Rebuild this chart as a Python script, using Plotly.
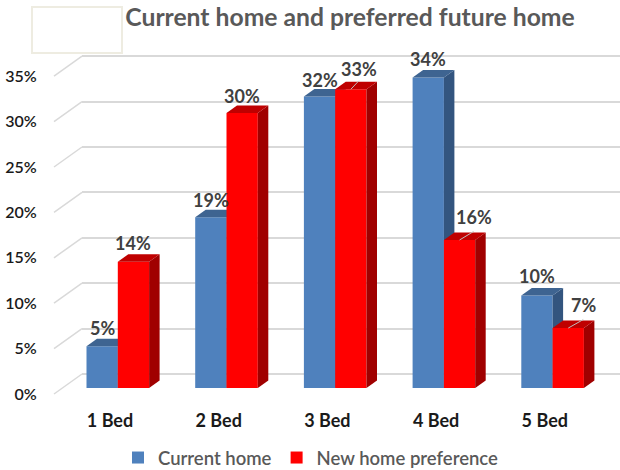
import plotly.graph_objects as go

categories = ["1 Bed", "2 Bed", "3 Bed", "4 Bed", "5 Bed"]
current_home = [4.6, 18.8, 32.1, 34.2, 10.2]
new_home = [13.9, 30.3, 32.9, 16.3, 6.6]
y_ticks = [0, 5, 10, 15, 20, 25, 30, 35]

# per-label placement of the data labels, in pixels from the bar's front top
blue_dx = [0, 0, 0, 0, 0]
blue_dy = [18, 17, 17, 18, 19]
red_dx = [0, 0, 8, 14, 15]
red_dy = [19, 17, 20, 23, 23]
leader_on = [False, False, True, True, True]

W, H = 620, 490       # slightly taller than the 470 window so the legend box is not clipped
CAT_STEP = 108.7      # px per category
PX_PER_PCT = 9.08     # px per percentage point
BAR_X0 = 117.8        # px of first category centre (bars)
BAR_Y0 = 388          # px of 0% on the bars' front plane
BACK_X0, BACK_Y0 = 82, 374
FRONT_X0, FRONT_Y0 = 54, 394
LABEL_X0 = 110
BAR_W = 31.3 / CAT_STEP
DX = 10.5 / CAT_STEP
DY = 7.5 / PX_PER_PCT
BLUE, BLUE_TOP, BLUE_SIDE = "#4F81BD", "#3E6491", "#33557F"
RED, RED_TOP, RED_SIDE = "#FF0000", "#BF0000", "#A00000"
GRID = "#D9D9D9"
FONT = "Lato"


def x_range(x0):
    return [(0 - x0) / CAT_STEP, (W - x0) / CAT_STEP]


def y_range(y0):
    return [(y0 - H) / PX_PER_PCT, y0 / PX_PER_PCT]


def poly(xs, ys, color, axes):
    return go.Scatter(x=xs, y=ys, mode="lines", fill="toself", fillcolor=color,
                      line=dict(width=0, color=color), hoverinfo="skip",
                      showlegend=False, xaxis=axes[0], yaxis=axes[1])


def bar_group(values, left_offset, name, front, top, side, axes):
    idx = list(range(len(values)))
    out = [go.Bar(x=idx, y=values, width=BAR_W, offset=left_offset, name=name,
                  marker=dict(color=front, line=dict(width=0)),
                  xaxis=axes[0], yaxis=axes[1])]
    for i, v in zip(idx, values):
        L = i + left_offset
        R = L + BAR_W
        out.append(poly([R, R + DX, R + DX, R, R], [0, DY, v + DY, v, 0], side, axes))
        out.append(poly([L, R, R + DX, L + DX, L], [v, v, v + DY, v + DY, v], top, axes))
    return out


fig = go.Figure()

# back wall gridlines live on x/y (lowest subplot)
fig.add_trace(go.Scatter(x=[0], y=[0], mode="markers", marker=dict(opacity=0),
                         hoverinfo="skip", showlegend=False, xaxis="x", yaxis="y"))

# diagonal wall ticks joining front and back planes
dx_wall0 = (FRONT_X0 - BAR_X0) / CAT_STEP
dx_wall1 = (BACK_X0 - BAR_X0) / CAT_STEP
dy_wall0 = (BAR_Y0 - FRONT_Y0) / PX_PER_PCT
dy_wall1 = (BAR_Y0 - BACK_Y0) / PX_PER_PCT
dxs, dys = [], []
for t in y_ticks:
    dxs += [dx_wall0, dx_wall1, None]
    dys += [t + dy_wall0, t + dy_wall1, None]
fig.add_trace(go.Scatter(x=dxs, y=dys, mode="lines", line=dict(color=GRID, width=1.5),
                         hoverinfo="skip", showlegend=False, xaxis="x2", yaxis="y2"))

for tr in bar_group(current_home, -BAR_W, "Current home", BLUE, BLUE_TOP, BLUE_SIDE, ("x2", "y2")):
    fig.add_trace(tr)
for tr in bar_group(new_home, 0, "New home preference", RED, RED_TOP, RED_SIDE, ("x3", "y3")):
    fig.add_trace(tr)

# carrier for the visible axes
fig.add_trace(go.Scatter(x=[0], y=[0], mode="markers", marker=dict(opacity=0),
                         hoverinfo="skip", showlegend=False, xaxis="x4", yaxis="y4"))

label_font = dict(family=FONT, size=18, color="#404040", weight=700)
for i, v in enumerate(current_home):
    fig.add_annotation(x=i - BAR_W / 2, y=v, xref="x2", yref="y2", text=f"{round(v)}%",
                       showarrow=False, xshift=blue_dx[i], yshift=blue_dy[i], font=label_font)
for i, v in enumerate(new_home):
    fig.add_annotation(x=i + BAR_W / 2, y=v, xref="x3", yref="y3", text=f"{round(v)}%",
                       showarrow=False, xshift=red_dx[i], yshift=red_dy[i], font=label_font)
    if leader_on[i]:
        fig.add_shape(type="line", xref="x3", yref="y3", xsizemode="pixel", ysizemode="pixel",
                      xanchor=i + BAR_W / 2, yanchor=v, x0=0, y0=0,
                      x1=red_dx[i], y1=8.5, line=dict(color="#BFBFBF", width=1))

# pale empty box at top left
fig.add_shape(type="rect", xref="paper", yref="paper", x0=32 / W, x1=122 / W,
              y0=1 - 53 / H, y1=1 - 7 / H, line=dict(color="#EEECE1", width=2), fillcolor="white")

hidden = dict(visible=False, fixedrange=True)
fig.update_layout(
    width=W, height=H, autosize=False,
    paper_bgcolor="white", plot_bgcolor="rgba(0,0,0,0)",
    margin=dict(l=0, r=0, t=0, b=0, autoexpand=False),
    barmode="overlay",
    title=dict(text="<b>Current home and preferred future home</b>", x=350 / W, xanchor="center",
               y=1 - 17 / H, yanchor="middle", font=dict(family=FONT, size=24.7, color="#595959")),
    showlegend=True,
    legend=dict(orientation="h", x=118 / W, xanchor="left", y=1 - 458 / H, yanchor="middle",
                font=dict(family=FONT, size=18.5, color="#595959", weight=600),
                bgcolor="rgba(0,0,0,0)", itemclick=False, itemdoubleclick=False),
    xaxis=dict(domain=[BACK_X0 / W, 1], range=[0, 1], visible=False, fixedrange=True),
    yaxis=dict(domain=[0, 1], range=y_range(BACK_Y0), tickvals=y_ticks, showgrid=True,
               gridcolor=GRID, gridwidth=1.5, zeroline=False, showticklabels=False,
               ticks="", showline=False, fixedrange=True),
    xaxis2=dict(domain=[0, 1], range=x_range(BAR_X0), anchor="y2", **hidden),
    yaxis2=dict(domain=[0, 1], range=y_range(BAR_Y0), anchor="x2", **hidden),
    xaxis3=dict(domain=[0, 1], range=x_range(BAR_X0), anchor="y3", **hidden),
    yaxis3=dict(domain=[0, 1], range=y_range(BAR_Y0), anchor="x3", **hidden),
    xaxis4=dict(domain=[0, 1], range=x_range(LABEL_X0), anchor="y4", tickmode="array",
                tickvals=list(range(len(categories))), ticktext=categories,
                ticks="outside", ticklen=10, tickcolor="rgba(0,0,0,0)", showgrid=False,
                zeroline=False, showline=False, fixedrange=True,
                tickfont=dict(family=FONT, size=18, color="#1A1A1A", weight=700)),
    yaxis4=dict(domain=[(H - FRONT_Y0) / H, 1], range=[0, FRONT_Y0 / PX_PER_PCT],
                anchor="free", position=41 / W, side="left", tickmode="array",
                tickvals=y_ticks, ticktext=[f"{t}%" for t in y_ticks],
                ticks="outside", ticklen=1, tickcolor="rgba(0,0,0,0)", showgrid=False,
                zeroline=False, showline=False, fixedrange=True,
                tickfont=dict(family=FONT, size=16, color="#1A1A1A", weight=600)),
)

fig.write_html("out.html", config={"displayModeBar": False},
               post_script="document.body.style.margin='0';document.body.style.overflow='hidden';"
                           "document.documentElement.style.overflow='hidden';")
